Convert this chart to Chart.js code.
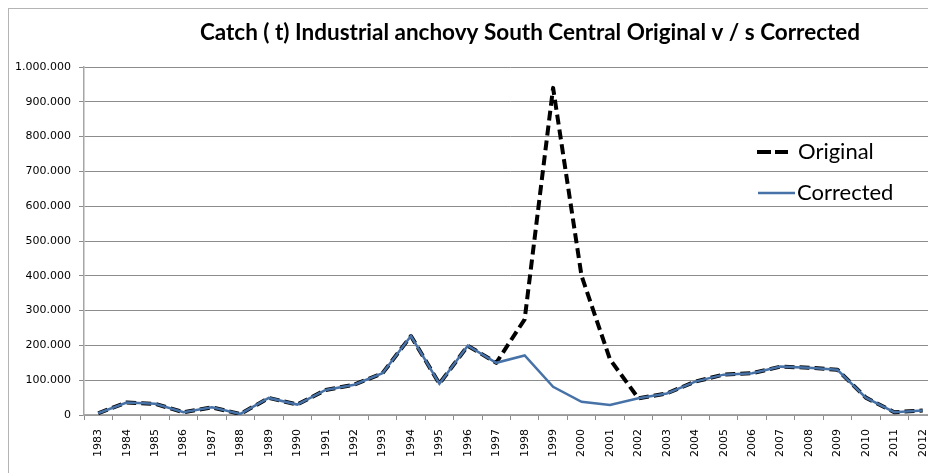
<!DOCTYPE html>
<html lang="en">
<head>
<meta charset="UTF-8">
<title>Catch ( t) Industrial anchovy South Central</title>
<script src="https://cdn.jsdelivr.net/npm/chart.js"></script>
<style>
    html, body { margin: 0; padding: 0; background: #ffffff; overflow: hidden; }
    #wrap { position: relative; width: 945px; height: 473px; }
</style>
</head>
<body>
<div id="wrap"><canvas id="catchChart" width="945" height="473"></canvas></div>
<script>
    // Catch in tonnes, one value per year
    const years = ['1983', '1984', '1985', '1986', '1987', '1988', '1989', '1990', '1991', '1992',
                   '1993', '1994', '1995', '1996', '1997', '1998', '1999', '2000', '2001', '2002',
                   '2003', '2004', '2005', '2006', '2007', '2008', '2009', '2010', '2011', '2012'];

    const original = [5000, 36000, 32000, 8000, 22000, 3000, 49000, 30000, 72000, 87000,
                      120000, 227000, 90000, 199000, 150000, 275000, 940000, 400000, 160000, 48000,
                      62000, 96000, 116000, 120000, 139000, 136000, 130000, 50000, 8000, 13000];

    const corrected = [5000, 36000, 32000, 8000, 22000, 3000, 49000, 30000, 72000, 87000,
                       120000, 227000, 90000, 199000, 150000, 171000, 81000, 38000, 29000, 48000,
                       62000, 96000, 116000, 120000, 139000, 136000, 130000, 50000, 8000, 13000];

    const seriesNames = ['Original', 'Corrected'];
    const chartTitle = 'Catch ( t) Industrial anchovy South Central Original v / s Corrected';
    const blue = '#4672a8';

    // thousands with dots, like the spreadsheet
    const fmt = v => v.toLocaleString('de-DE');

    // outer frame of the chart object
    const framePlugin = {
        id: 'frame',
        beforeDraw(chart) {
            const ctx = chart.ctx;
            ctx.save();
            ctx.strokeStyle = '#b4b4b4';
            ctx.lineWidth = 1;
            ctx.strokeRect(8.5, 8.5, 2000, 2000);
            ctx.restore();
        }
    };

    // title centred on the whole (wider, cropped) chart object
    const titlePlugin = {
        id: 'topTitle',
        afterDraw(chart) {
            const ctx = chart.ctx;
            ctx.save();
            ctx.fillStyle = '#000000';
            ctx.font = 'bold 22.5px Lato';
            ctx.textAlign = 'center';
            ctx.textBaseline = 'middle';
            ctx.fillText(chartTitle, 530, 33);
            ctx.restore();
        }
    };

    // legend drawn inside the plot, right side
    const legendPlugin = {
        id: 'sideLegend',
        afterDraw(chart) {
            const ctx = chart.ctx;
            ctx.save();
            ctx.lineCap = 'butt';
            ctx.strokeStyle = '#000000';
            ctx.lineWidth = 4;
            ctx.setLineDash([14, 4]);
            ctx.beginPath();
            ctx.moveTo(757, 152);
            ctx.lineTo(788, 152);
            ctx.stroke();

            ctx.setLineDash([]);
            ctx.strokeStyle = blue;
            ctx.lineWidth = 2.5;
            ctx.beginPath();
            ctx.moveTo(758, 193);
            ctx.lineTo(795, 193);
            ctx.stroke();

            ctx.fillStyle = '#000000';
            ctx.font = '22px Lato';
            ctx.textBaseline = 'middle';
            ctx.fillText(seriesNames[0], 798, 152);
            ctx.fillText(seriesNames[1], 797, 193);
            ctx.restore();
        }
    };

    new Chart(document.getElementById('catchChart'), {
        type: 'line',
        data: {
            labels: years,
            datasets: [
                {
                    label: seriesNames[1],
                    data: corrected,
                    borderColor: blue,
                    borderWidth: 2.5,
                    pointRadius: 0,
                    tension: 0,
                    fill: false
                },
                {
                    label: seriesNames[0],
                    data: original,
                    borderColor: '#000000',
                    borderWidth: 4,
                    borderDash: [10, 5],
                    borderJoinStyle: 'round',
                    pointRadius: 0,
                    tension: 0,
                    fill: false
                }
            ]
        },
        options: {
            responsive: false,
            animation: false,
            layout: { padding: { left: 0, right: 7, top: 67, bottom: 0 } },
            plugins: {
                legend: { display: false },
                tooltip: { enabled: false },
                title: { display: false }
            },
            scales: {
                x: {
                    offset: true,
                    afterFit: s => { s.height = 58; },
                    grid: { display: true, drawOnChartArea: false, offset: true, tickLength: 5, color: '#8c8c8c' },
                    border: { color: '#a6a6a6', width: 1.5 },
                    ticks: {
                        autoSkip: false,
                        minRotation: 90,
                        maxRotation: 90,
                        padding: 9,
                        color: '#000000',
                        font: { family: 'DejaVu Sans', size: 11 }
                    }
                },
                y: {
                    min: 0,
                    max: 1000000,
                    afterFit: s => { s.width = 84; },
                    grid: { color: '#8c8c8c', tickLength: 5 },
                    border: { color: '#a6a6a6', width: 1.5 },
                    ticks: {
                        stepSize: 100000,
                        padding: 8,
                        color: '#000000',
                        font: { family: 'DejaVu Sans', size: 11 },
                        callback: v => fmt(v)
                    }
                }
            }
        },
        plugins: [framePlugin, titlePlugin, legendPlugin]
    });
</script>
</body>
</html>
